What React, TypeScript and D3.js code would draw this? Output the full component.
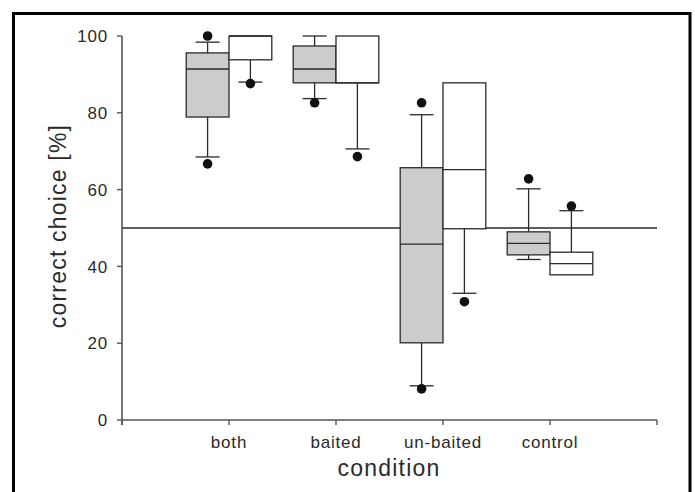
import React from "react";
import * as d3 from "d3";

const categories = ["both", "baited", "un-baited", "control"];
const yTicks = [0, 20, 40, 60, 80, 100];
const referenceValue = 50;

// grey (left) boxes
const greyLow = [68.5, 83.7, 8.9, 41.8];
const greyQ1 = [78.9, 87.8, 20.1, 43.0];
const greyMedian = [91.4, 91.4, 45.8, 46.0];
const greyQ3 = [95.6, 97.4, 65.7, 49.0];
const greyHigh = [98.4, 100, 79.5, 60.2];
const greyOutliers = [[100, 66.7], [82.6], [82.6, 8.1], [62.8]];

// white (right) boxes
const whiteLow = [88.0, 70.6, 33.0, 37.8];
const whiteQ1 = [93.8, 87.8, 49.8, 37.8];
const whiteMedian = [100, 87.8, 65.2, 40.7];
const whiteQ3 = [100, 100, 87.8, 43.7];
const whiteHigh = [100, 100, 87.8, 54.5];
const whiteOutliers = [[87.6], [68.6], [30.8], [55.7]];

const W = 695;
const H = 492;
const left = 122;
const right = 657;
const top = 36;
const bottom = 420;

const x = d3.scaleLinear().domain([0, categories.length + 1]).range([left, right]);
const y = d3.scaleLinear().domain([0, 100]).range([bottom, top]);
const step = x(1) - x(0);
const boxW = step * 0.4;
const capW = 24;

const series = [
  { low: greyLow, q1: greyQ1, med: greyMedian, q3: greyQ3, high: greyHigh, out: greyOutliers, fill: "#cccccc", side: -1 },
  { low: whiteLow, q1: whiteQ1, med: whiteMedian, q3: whiteQ3, high: whiteHigh, out: whiteOutliers, fill: "#ffffff", side: 1 },
];

const font = "'Liberation Sans', Arial, Helvetica, sans-serif";
const ink = "#2a2a2a";

export default function App() {
  return (
    <svg width={W} height={H} style={{ position: "absolute", left: 0, top: 0, background: "#fff" }}>
      <rect x={0} y={0} width={W} height={H} fill="#fff" />
      {/* outer frame */}
      <rect x={13.5} y={13.5} width={676.5} height={H + 20} fill="none" stroke="#000" strokeWidth={3} />

      {/* reference line */}
      <line x1={left} x2={right} y1={y(referenceValue)} y2={y(referenceValue)} stroke={ink} strokeWidth={1.4} />

      {/* boxes */}
      {series.map((s, si) =>
        categories.map((c, i) => {
          const cx = x(i + 1);
          const x0 = s.side < 0 ? cx - boxW : cx;
          const mid = x0 + boxW / 2;
          return (
            <g key={`${si}-${c}`}>
              {s.high[i] > s.q3[i] && (
                <g>
                  <line x1={mid} x2={mid} y1={y(s.q3[i])} y2={y(s.high[i])} stroke={ink} strokeWidth={1.3} />
                  <line x1={mid - capW / 2} x2={mid + capW / 2} y1={y(s.high[i])} y2={y(s.high[i])} stroke={ink} strokeWidth={1.3} />
                </g>
              )}
              {s.low[i] < s.q1[i] && (
                <g>
                  <line x1={mid} x2={mid} y1={y(s.q1[i])} y2={y(s.low[i])} stroke={ink} strokeWidth={1.3} />
                  <line x1={mid - capW / 2} x2={mid + capW / 2} y1={y(s.low[i])} y2={y(s.low[i])} stroke={ink} strokeWidth={1.3} />
                </g>
              )}
              <rect x={x0} y={y(s.q3[i])} width={boxW} height={y(s.q1[i]) - y(s.q3[i])} fill={s.fill} stroke={ink} strokeWidth={1.3} />
              <line x1={x0} x2={x0 + boxW} y1={y(s.med[i])} y2={y(s.med[i])} stroke={ink} strokeWidth={1.3} />
              {s.out[i].map((v, k) => (
                <circle key={k} cx={mid} cy={y(v)} r={4.8} fill="#111" />
              ))}
            </g>
          );
        })
      )}

      {/* y axis */}
      <line x1={left} x2={left} y1={top} y2={bottom + 5} stroke="#555" strokeWidth={1.6} />
      {yTicks.map((t) => (
        <g key={t}>
          <line x1={left - 5} x2={left} y1={y(t)} y2={y(t)} stroke="#555" strokeWidth={1.4} />
          <text x={108} y={y(t)} dy="0.36em" textAnchor="end" fontFamily={font} fontSize={17} fill={ink} letterSpacing={0.8}>
            {t}
          </text>
        </g>
      ))}

      {/* x axis */}
      <line x1={left} x2={right} y1={bottom} y2={bottom} stroke="#555" strokeWidth={1.6} />
      {d3.range(0, categories.length + 2).map((k) => (
        <line key={k} x1={x(k)} x2={x(k)} y1={bottom} y2={bottom + 5} stroke="#555" strokeWidth={1.4} />
      ))}
      {categories.map((c, i) => (
        <text key={c} x={x(i + 1)} y={448} textAnchor="middle" fontFamily={font} fontSize={17} fill={ink} letterSpacing={0.8}>
          {c}
        </text>
      ))}

      {/* titles */}
      <text x={389} y={476} textAnchor="middle" fontFamily={font} fontSize={23} fill={ink} letterSpacing={1.2}>
        condition
      </text>
      <text
        transform={`translate(66, ${226}) rotate(-90)`}
        textAnchor="middle"
        fontFamily={font}
        fontSize={23}
        fill={ink}
        letterSpacing={1.2}
      >
        correct choice [%]
      </text>
    </svg>
  );
}
